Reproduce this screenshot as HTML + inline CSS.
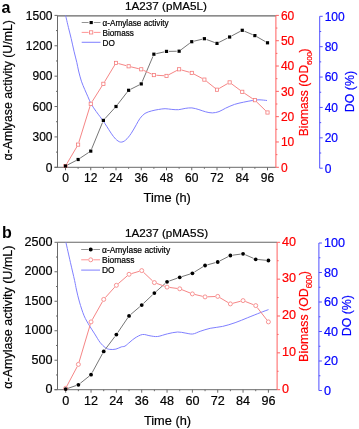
<!DOCTYPE html>
<html><head><meta charset="utf-8"><style>html,body{margin:0;padding:0;background:#fff;}svg{display:block;will-change:transform;}text{stroke-width:0.2px;}</style></head>
<body>
<svg width="359" height="429" viewBox="0 0 359 429" font-family='"Liberation Sans", sans-serif'>
<rect width="359" height="429" fill="#fff"/>
<line x1="57.5" y1="15.85" x2="275.9" y2="15.85" stroke="#666" stroke-width="1.1" />
<line x1="57.5" y1="15.4" x2="57.5" y2="167.3" stroke="#6a6a6a" stroke-width="1" />
<line x1="54.5" y1="167.3" x2="275.9" y2="167.3" stroke="#6a6a6a" stroke-width="1" />
<line x1="54.5" y1="167.3" x2="57.5" y2="167.3" stroke="#6a6a6a" stroke-width="1" />
<text x="52.5" y="171.6" font-size="12" fill="#000" stroke="#000" text-anchor="end" >0</text>
<line x1="56" y1="152.11" x2="57.5" y2="152.11" stroke="#6a6a6a" stroke-width="1" />
<line x1="54.5" y1="136.92" x2="57.5" y2="136.92" stroke="#6a6a6a" stroke-width="1" />
<text x="52.5" y="141.22" font-size="12" fill="#000" stroke="#000" text-anchor="end" >300</text>
<line x1="56" y1="121.73" x2="57.5" y2="121.73" stroke="#6a6a6a" stroke-width="1" />
<line x1="54.5" y1="106.54" x2="57.5" y2="106.54" stroke="#6a6a6a" stroke-width="1" />
<text x="52.5" y="110.84" font-size="12" fill="#000" stroke="#000" text-anchor="end" >600</text>
<line x1="56" y1="91.35" x2="57.5" y2="91.35" stroke="#6a6a6a" stroke-width="1" />
<line x1="54.5" y1="76.16" x2="57.5" y2="76.16" stroke="#6a6a6a" stroke-width="1" />
<text x="52.5" y="80.46" font-size="12" fill="#000" stroke="#000" text-anchor="end" >900</text>
<line x1="56" y1="60.97" x2="57.5" y2="60.97" stroke="#6a6a6a" stroke-width="1" />
<line x1="54.5" y1="45.78" x2="57.5" y2="45.78" stroke="#6a6a6a" stroke-width="1" />
<text x="52.5" y="50.08" font-size="12" fill="#000" stroke="#000" text-anchor="end" >1200</text>
<line x1="56" y1="30.59" x2="57.5" y2="30.59" stroke="#6a6a6a" stroke-width="1" />
<line x1="54.5" y1="15.4" x2="57.5" y2="15.4" stroke="#6a6a6a" stroke-width="1" />
<text x="52.5" y="19.7" font-size="12" fill="#000" stroke="#000" text-anchor="end" >1500</text>
<line x1="65.5" y1="167.3" x2="65.5" y2="170.3" stroke="#6a6a6a" stroke-width="1" />
<text x="65.5" y="181.6" font-size="12" fill="#000" stroke="#000" text-anchor="middle" >0</text>
<line x1="78.12" y1="167.3" x2="78.12" y2="168.8" stroke="#6a6a6a" stroke-width="1" />
<line x1="90.75" y1="167.3" x2="90.75" y2="170.3" stroke="#6a6a6a" stroke-width="1" />
<text x="90.75" y="181.6" font-size="12" fill="#000" stroke="#000" text-anchor="middle" >12</text>
<line x1="103.38" y1="167.3" x2="103.38" y2="168.8" stroke="#6a6a6a" stroke-width="1" />
<line x1="116" y1="167.3" x2="116" y2="170.3" stroke="#6a6a6a" stroke-width="1" />
<text x="116" y="181.6" font-size="12" fill="#000" stroke="#000" text-anchor="middle" >24</text>
<line x1="128.62" y1="167.3" x2="128.62" y2="168.8" stroke="#6a6a6a" stroke-width="1" />
<line x1="141.25" y1="167.3" x2="141.25" y2="170.3" stroke="#6a6a6a" stroke-width="1" />
<text x="141.25" y="181.6" font-size="12" fill="#000" stroke="#000" text-anchor="middle" >36</text>
<line x1="153.88" y1="167.3" x2="153.88" y2="168.8" stroke="#6a6a6a" stroke-width="1" />
<line x1="166.5" y1="167.3" x2="166.5" y2="170.3" stroke="#6a6a6a" stroke-width="1" />
<text x="166.5" y="181.6" font-size="12" fill="#000" stroke="#000" text-anchor="middle" >48</text>
<line x1="179.12" y1="167.3" x2="179.12" y2="168.8" stroke="#6a6a6a" stroke-width="1" />
<line x1="191.75" y1="167.3" x2="191.75" y2="170.3" stroke="#6a6a6a" stroke-width="1" />
<text x="191.75" y="181.6" font-size="12" fill="#000" stroke="#000" text-anchor="middle" >60</text>
<line x1="204.38" y1="167.3" x2="204.38" y2="168.8" stroke="#6a6a6a" stroke-width="1" />
<line x1="217" y1="167.3" x2="217" y2="170.3" stroke="#6a6a6a" stroke-width="1" />
<text x="217" y="181.6" font-size="12" fill="#000" stroke="#000" text-anchor="middle" >72</text>
<line x1="229.62" y1="167.3" x2="229.62" y2="168.8" stroke="#6a6a6a" stroke-width="1" />
<line x1="242.25" y1="167.3" x2="242.25" y2="170.3" stroke="#6a6a6a" stroke-width="1" />
<text x="242.25" y="181.6" font-size="12" fill="#000" stroke="#000" text-anchor="middle" >84</text>
<line x1="254.88" y1="167.3" x2="254.88" y2="168.8" stroke="#6a6a6a" stroke-width="1" />
<line x1="267.5" y1="167.3" x2="267.5" y2="170.3" stroke="#6a6a6a" stroke-width="1" />
<text x="267.5" y="181.6" font-size="12" fill="#000" stroke="#000" text-anchor="middle" >96</text>
<line x1="275.9" y1="15.4" x2="275.9" y2="167.3" stroke="#ff6060" stroke-width="1" />
<line x1="275.9" y1="167.3" x2="278.9" y2="167.3" stroke="#ff6060" stroke-width="1" />
<text x="280.9" y="171.6" font-size="12" fill="#ff0000" stroke="#ff0000" text-anchor="start" >0</text>
<line x1="275.9" y1="154.64" x2="277.4" y2="154.64" stroke="#ff6060" stroke-width="1" />
<line x1="275.9" y1="141.98" x2="278.9" y2="141.98" stroke="#ff6060" stroke-width="1" />
<text x="280.9" y="146.28" font-size="12" fill="#ff0000" stroke="#ff0000" text-anchor="start" >10</text>
<line x1="275.9" y1="129.33" x2="277.4" y2="129.33" stroke="#ff6060" stroke-width="1" />
<line x1="275.9" y1="116.67" x2="278.9" y2="116.67" stroke="#ff6060" stroke-width="1" />
<text x="280.9" y="120.97" font-size="12" fill="#ff0000" stroke="#ff0000" text-anchor="start" >20</text>
<line x1="275.9" y1="104.01" x2="277.4" y2="104.01" stroke="#ff6060" stroke-width="1" />
<line x1="275.9" y1="91.35" x2="278.9" y2="91.35" stroke="#ff6060" stroke-width="1" />
<text x="280.9" y="95.65" font-size="12" fill="#ff0000" stroke="#ff0000" text-anchor="start" >30</text>
<line x1="275.9" y1="78.69" x2="277.4" y2="78.69" stroke="#ff6060" stroke-width="1" />
<line x1="275.9" y1="66.03" x2="278.9" y2="66.03" stroke="#ff6060" stroke-width="1" />
<text x="280.9" y="70.33" font-size="12" fill="#ff0000" stroke="#ff0000" text-anchor="start" >40</text>
<line x1="275.9" y1="53.38" x2="277.4" y2="53.38" stroke="#ff6060" stroke-width="1" />
<line x1="275.9" y1="40.72" x2="278.9" y2="40.72" stroke="#ff6060" stroke-width="1" />
<text x="280.9" y="45.02" font-size="12" fill="#ff0000" stroke="#ff0000" text-anchor="start" >50</text>
<line x1="275.9" y1="28.06" x2="277.4" y2="28.06" stroke="#ff6060" stroke-width="1" />
<line x1="275.9" y1="15.4" x2="278.9" y2="15.4" stroke="#ff6060" stroke-width="1" />
<text x="280.9" y="19.7" font-size="12" fill="#ff0000" stroke="#ff0000" text-anchor="start" >60</text>
<line x1="319.7" y1="16.3" x2="319.7" y2="168.2" stroke="#5050ff" stroke-width="1" />
<line x1="319.7" y1="168.2" x2="322.7" y2="168.2" stroke="#5050ff" stroke-width="1" />
<text x="324.7" y="172.5" font-size="12" fill="#0000ff" stroke="#0000ff" text-anchor="start" >0</text>
<line x1="319.7" y1="153.01" x2="321.2" y2="153.01" stroke="#5050ff" stroke-width="1" />
<line x1="319.7" y1="137.82" x2="322.7" y2="137.82" stroke="#5050ff" stroke-width="1" />
<text x="324.7" y="142.12" font-size="12" fill="#0000ff" stroke="#0000ff" text-anchor="start" >20</text>
<line x1="319.7" y1="122.63" x2="321.2" y2="122.63" stroke="#5050ff" stroke-width="1" />
<line x1="319.7" y1="107.44" x2="322.7" y2="107.44" stroke="#5050ff" stroke-width="1" />
<text x="324.7" y="111.74" font-size="12" fill="#0000ff" stroke="#0000ff" text-anchor="start" >40</text>
<line x1="319.7" y1="92.25" x2="321.2" y2="92.25" stroke="#5050ff" stroke-width="1" />
<line x1="319.7" y1="77.06" x2="322.7" y2="77.06" stroke="#5050ff" stroke-width="1" />
<text x="324.7" y="81.36" font-size="12" fill="#0000ff" stroke="#0000ff" text-anchor="start" >60</text>
<line x1="319.7" y1="61.87" x2="321.2" y2="61.87" stroke="#5050ff" stroke-width="1" />
<line x1="319.7" y1="46.68" x2="322.7" y2="46.68" stroke="#5050ff" stroke-width="1" />
<text x="324.7" y="50.98" font-size="12" fill="#0000ff" stroke="#0000ff" text-anchor="start" >80</text>
<line x1="319.7" y1="31.49" x2="321.2" y2="31.49" stroke="#5050ff" stroke-width="1" />
<line x1="319.7" y1="16.3" x2="322.7" y2="16.3" stroke="#5050ff" stroke-width="1" />
<text x="324.7" y="20.6" font-size="12" fill="#0000ff" stroke="#0000ff" text-anchor="start" >100</text>
<text transform="translate(11.8,90.35) rotate(-90)" font-size="12.3" stroke="#000" text-anchor="middle">α-Amlyase activity (U/mL)</text>
<text transform="translate(308.4,92.3) rotate(-90)" font-size="12" fill="#ff0000" stroke="#ff0000" text-anchor="middle">Biomass (OD<tspan font-size="8.04" dy="4.0" letter-spacing="-0.3">600</tspan><tspan dy="-4.0">)</tspan></text>
<text transform="translate(354.3,91.6) rotate(-90)" font-size="12.4" fill="#0000ff" stroke="#0000ff" text-anchor="middle">DO (%)</text>
<text x="167.2" y="201.5" font-size="12.8" fill="#000" stroke="#000" text-anchor="middle" >Time (h)</text>
<text x="165.9" y="9.7" font-size="11.7" fill="#000" stroke="#000" text-anchor="middle" >1A237 (pMA5L)</text>
<text x="1.5" y="12.5" font-size="16" font-weight="bold">a</text>
<path d="M65.6,15.4 C66.07,17.4 67.47,23.53 68.4,27.4 C69.33,31.27 70.27,34.63 71.2,38.6 C72.13,42.57 73.07,47.23 74,51.2 C74.93,55.17 76.03,59.1 76.8,62.4 C77.57,65.7 77.83,67.87 78.6,71 C79.37,74.13 80.38,78.13 81.4,81.2 C82.42,84.27 83.62,86.82 84.7,89.4 C85.78,91.98 86.82,94.27 87.9,96.7 C88.98,99.13 89.83,101.55 91.2,104 C92.57,106.45 94.63,109.3 96.1,111.4 C97.57,113.5 98.8,114.97 100,116.6 C101.2,118.23 102.18,119.58 103.3,121.2 C104.42,122.82 105.4,124.3 106.7,126.3 C108,128.3 109.62,131.08 111.1,133.2 C112.58,135.32 114.02,137.52 115.6,139 C117.18,140.48 118.93,141.92 120.6,142.1 C122.27,142.28 123.83,141.55 125.6,140.1 C127.37,138.65 129.42,135.97 131.2,133.4 C132.98,130.83 134.83,127.2 136.3,124.7 C137.77,122.2 138.55,120.28 140,118.4 C141.45,116.52 143.05,114.65 145,113.4 C146.95,112.15 149.47,111.55 151.7,110.9 C153.93,110.25 156.17,109.87 158.4,109.5 C160.63,109.13 162.87,108.72 165.1,108.7 C167.33,108.68 169.57,109.23 171.8,109.4 C174.03,109.57 176.27,109.87 178.5,109.7 C180.73,109.53 182.97,108.7 185.2,108.4 C187.43,108.1 189.62,107.7 191.9,107.9 C194.18,108.1 196.62,108.95 198.9,109.6 C201.18,110.25 203.37,111.25 205.6,111.8 C207.83,112.35 210.07,112.93 212.3,112.9 C214.53,112.87 216.78,112.38 219,111.6 C221.22,110.82 223.02,109.4 225.6,108.2 C228.18,107 231.52,105.4 234.5,104.4 C237.48,103.4 240.52,102.85 243.5,102.2 C246.48,101.55 249.82,100.9 252.4,100.5 C254.98,100.1 256.57,99.8 259,99.8 C261.43,99.8 265.67,100.38 267,100.5" fill="none" stroke="#7f7fff" stroke-width="1"/>
<path d="M67.63,164.9 L75.99,160.6 M80.12,158.17 L88.75,152.43 M91.66,148.88 L102.46,122.62 M104.99,118.62 L114.39,108.28 M117.48,104.61 L127.15,92.19 M130.77,89.21 L139.11,84.99 M142.19,81.69 L152.94,56.41 M156.22,53.68 L164.16,51.92 M168.9,51.36 L176.73,51.24 M181.04,49.76 L189.83,43.14 M194.08,41.15 L202.04,39.25 M206.62,39.54 L214.75,42.56 M219.14,42.31 L227.48,38.09 M231.74,35.87 L240.13,31.43 M244.46,31.23 L252.66,34.67 M256.96,36.79 L265.42,41.61" fill="none" stroke="#777" stroke-width="1"/>
<path d="M66.77,163.85 L76.85,146.75 M78.86,142.21 L90.01,106.19 M92.08,101.69 L102.04,85.91 M104.67,81.66 L114.71,65.04 M118.41,63.55 L126.21,65.65 M131.06,66.88 L138.82,68.72 M143.52,70.34 L151.6,74.06 M156.37,75.26 L164.01,75.74 M168.72,74.74 L176.91,70.46 M181.53,69.99 L189.35,72.21 M193.96,74.07 L202.17,78.43 M206.33,81.16 L215.05,88.14 M219.16,88.45 L227.46,83.65 M231.63,83.89 L240.24,90.31 M244.33,93.18 L252.79,98.82 M256.67,101.94 L265.71,110.76" fill="none" stroke="#f68686" stroke-width="1"/>
<rect x="63.9" y="164.4" width="3.2" height="3.2" fill="#fff" stroke="#f47272" stroke-width="0.75"/>
<rect x="76.53" y="143" width="3.2" height="3.2" fill="#fff" stroke="#f47272" stroke-width="0.75"/>
<rect x="89.15" y="102.2" width="3.2" height="3.2" fill="#fff" stroke="#f47272" stroke-width="0.75"/>
<rect x="101.78" y="82.2" width="3.2" height="3.2" fill="#fff" stroke="#f47272" stroke-width="0.75"/>
<rect x="114.4" y="61.3" width="3.2" height="3.2" fill="#fff" stroke="#f47272" stroke-width="0.75"/>
<rect x="127.03" y="64.7" width="3.2" height="3.2" fill="#fff" stroke="#f47272" stroke-width="0.75"/>
<rect x="139.65" y="67.7" width="3.2" height="3.2" fill="#fff" stroke="#f47272" stroke-width="0.75"/>
<rect x="152.28" y="73.5" width="3.2" height="3.2" fill="#fff" stroke="#f47272" stroke-width="0.75"/>
<rect x="164.9" y="74.3" width="3.2" height="3.2" fill="#fff" stroke="#f47272" stroke-width="0.75"/>
<rect x="177.53" y="67.7" width="3.2" height="3.2" fill="#fff" stroke="#f47272" stroke-width="0.75"/>
<rect x="190.15" y="71.3" width="3.2" height="3.2" fill="#fff" stroke="#f47272" stroke-width="0.75"/>
<rect x="202.78" y="78" width="3.2" height="3.2" fill="#fff" stroke="#f47272" stroke-width="0.75"/>
<rect x="215.4" y="88.1" width="3.2" height="3.2" fill="#fff" stroke="#f47272" stroke-width="0.75"/>
<rect x="228.03" y="80.8" width="3.2" height="3.2" fill="#fff" stroke="#f47272" stroke-width="0.75"/>
<rect x="240.65" y="90.2" width="3.2" height="3.2" fill="#fff" stroke="#f47272" stroke-width="0.75"/>
<rect x="253.28" y="98.6" width="3.2" height="3.2" fill="#fff" stroke="#f47272" stroke-width="0.75"/>
<rect x="265.9" y="110.9" width="3.2" height="3.2" fill="#fff" stroke="#f47272" stroke-width="0.75"/>
<rect x="63.9" y="164.4" width="3.2" height="3.2" fill="#000"/>
<rect x="76.53" y="157.9" width="3.2" height="3.2" fill="#000"/>
<rect x="89.15" y="149.5" width="3.2" height="3.2" fill="#000"/>
<rect x="101.78" y="118.8" width="3.2" height="3.2" fill="#000"/>
<rect x="114.4" y="104.9" width="3.2" height="3.2" fill="#000"/>
<rect x="127.03" y="88.7" width="3.2" height="3.2" fill="#000"/>
<rect x="139.65" y="82.3" width="3.2" height="3.2" fill="#000"/>
<rect x="152.28" y="52.6" width="3.2" height="3.2" fill="#000"/>
<rect x="164.9" y="49.8" width="3.2" height="3.2" fill="#000"/>
<rect x="177.53" y="49.6" width="3.2" height="3.2" fill="#000"/>
<rect x="190.15" y="40.1" width="3.2" height="3.2" fill="#000"/>
<rect x="202.78" y="37.1" width="3.2" height="3.2" fill="#000"/>
<rect x="215.4" y="41.8" width="3.2" height="3.2" fill="#000"/>
<rect x="228.03" y="35.4" width="3.2" height="3.2" fill="#000"/>
<rect x="240.65" y="28.7" width="3.2" height="3.2" fill="#000"/>
<rect x="253.28" y="34" width="3.2" height="3.2" fill="#000"/>
<rect x="265.9" y="41.2" width="3.2" height="3.2" fill="#000"/>
<line x1="81.7" y1="22.5" x2="88.6" y2="22.5" stroke="#888" stroke-width="0.9" />
<line x1="93.8" y1="22.5" x2="100.5" y2="22.5" stroke="#888" stroke-width="0.9" />
<rect x="89.6" y="21" width="3.2" height="3.1" fill="#000"/>
<text x="102.5" y="25.7" font-size="8.2" fill="#000" stroke="#000" text-anchor="start" >α-Amylase activity</text>
<line x1="81.7" y1="32.4" x2="88.6" y2="32.4" stroke="#f88" stroke-width="0.9" />
<line x1="93.8" y1="32.4" x2="100.5" y2="32.4" stroke="#f88" stroke-width="0.9" />
<rect x="89.6" y="30.8" width="3.2" height="3.2" fill="#fff" stroke="#f47272" stroke-width="0.75"/>
<text x="102.5" y="35.6" font-size="8.2" fill="#000" stroke="#000" text-anchor="start" >Biomass</text>
<line x1="81.7" y1="42.3" x2="100.5" y2="42.3" stroke="#8888ff" stroke-width="1.1" />
<text x="102.5" y="45.5" font-size="8.2" fill="#000" stroke="#000" text-anchor="start" >DO</text>
<line x1="57.5" y1="242.3" x2="277.1" y2="242.3" stroke="#666" stroke-width="1.1" />
<line x1="57.5" y1="242.3" x2="57.5" y2="389.7" stroke="#6a6a6a" stroke-width="1" />
<line x1="54.5" y1="389.7" x2="277.1" y2="389.7" stroke="#6a6a6a" stroke-width="1" />
<line x1="54.5" y1="389.7" x2="57.5" y2="389.7" stroke="#6a6a6a" stroke-width="1" />
<text x="52.5" y="393" font-size="12.6" fill="#000" stroke="#000" text-anchor="end" >0</text>
<line x1="56" y1="374.96" x2="57.5" y2="374.96" stroke="#6a6a6a" stroke-width="1" />
<line x1="54.5" y1="360.22" x2="57.5" y2="360.22" stroke="#6a6a6a" stroke-width="1" />
<text x="52.5" y="363.52" font-size="12.6" fill="#000" stroke="#000" text-anchor="end" >500</text>
<line x1="56" y1="345.48" x2="57.5" y2="345.48" stroke="#6a6a6a" stroke-width="1" />
<line x1="54.5" y1="330.74" x2="57.5" y2="330.74" stroke="#6a6a6a" stroke-width="1" />
<text x="52.5" y="334.04" font-size="12.6" fill="#000" stroke="#000" text-anchor="end" >1000</text>
<line x1="56" y1="316" x2="57.5" y2="316" stroke="#6a6a6a" stroke-width="1" />
<line x1="54.5" y1="301.26" x2="57.5" y2="301.26" stroke="#6a6a6a" stroke-width="1" />
<text x="52.5" y="304.56" font-size="12.6" fill="#000" stroke="#000" text-anchor="end" >1500</text>
<line x1="56" y1="286.52" x2="57.5" y2="286.52" stroke="#6a6a6a" stroke-width="1" />
<line x1="54.5" y1="271.78" x2="57.5" y2="271.78" stroke="#6a6a6a" stroke-width="1" />
<text x="52.5" y="275.08" font-size="12.6" fill="#000" stroke="#000" text-anchor="end" >2000</text>
<line x1="56" y1="257.04" x2="57.5" y2="257.04" stroke="#6a6a6a" stroke-width="1" />
<line x1="54.5" y1="242.3" x2="57.5" y2="242.3" stroke="#6a6a6a" stroke-width="1" />
<text x="52.5" y="245.6" font-size="12.6" fill="#000" stroke="#000" text-anchor="end" >2500</text>
<line x1="65.7" y1="389.7" x2="65.7" y2="392.7" stroke="#6a6a6a" stroke-width="1" />
<text x="65.7" y="405" font-size="12.6" fill="#000" stroke="#000" text-anchor="middle" >0</text>
<line x1="78.37" y1="389.7" x2="78.37" y2="391.2" stroke="#6a6a6a" stroke-width="1" />
<line x1="91.04" y1="389.7" x2="91.04" y2="392.7" stroke="#6a6a6a" stroke-width="1" />
<text x="91.04" y="405" font-size="12.6" fill="#000" stroke="#000" text-anchor="middle" >12</text>
<line x1="103.71" y1="389.7" x2="103.71" y2="391.2" stroke="#6a6a6a" stroke-width="1" />
<line x1="116.38" y1="389.7" x2="116.38" y2="392.7" stroke="#6a6a6a" stroke-width="1" />
<text x="116.38" y="405" font-size="12.6" fill="#000" stroke="#000" text-anchor="middle" >24</text>
<line x1="129.04" y1="389.7" x2="129.04" y2="391.2" stroke="#6a6a6a" stroke-width="1" />
<line x1="141.71" y1="389.7" x2="141.71" y2="392.7" stroke="#6a6a6a" stroke-width="1" />
<text x="141.71" y="405" font-size="12.6" fill="#000" stroke="#000" text-anchor="middle" >36</text>
<line x1="154.38" y1="389.7" x2="154.38" y2="391.2" stroke="#6a6a6a" stroke-width="1" />
<line x1="167.05" y1="389.7" x2="167.05" y2="392.7" stroke="#6a6a6a" stroke-width="1" />
<text x="167.05" y="405" font-size="12.6" fill="#000" stroke="#000" text-anchor="middle" >48</text>
<line x1="179.72" y1="389.7" x2="179.72" y2="391.2" stroke="#6a6a6a" stroke-width="1" />
<line x1="192.39" y1="389.7" x2="192.39" y2="392.7" stroke="#6a6a6a" stroke-width="1" />
<text x="192.39" y="405" font-size="12.6" fill="#000" stroke="#000" text-anchor="middle" >60</text>
<line x1="205.06" y1="389.7" x2="205.06" y2="391.2" stroke="#6a6a6a" stroke-width="1" />
<line x1="217.73" y1="389.7" x2="217.73" y2="392.7" stroke="#6a6a6a" stroke-width="1" />
<text x="217.73" y="405" font-size="12.6" fill="#000" stroke="#000" text-anchor="middle" >72</text>
<line x1="230.39" y1="389.7" x2="230.39" y2="391.2" stroke="#6a6a6a" stroke-width="1" />
<line x1="243.06" y1="389.7" x2="243.06" y2="392.7" stroke="#6a6a6a" stroke-width="1" />
<text x="243.06" y="405" font-size="12.6" fill="#000" stroke="#000" text-anchor="middle" >84</text>
<line x1="255.73" y1="389.7" x2="255.73" y2="391.2" stroke="#6a6a6a" stroke-width="1" />
<line x1="268.4" y1="389.7" x2="268.4" y2="392.7" stroke="#6a6a6a" stroke-width="1" />
<text x="268.4" y="405" font-size="12.6" fill="#000" stroke="#000" text-anchor="middle" >96</text>
<line x1="277.1" y1="242.3" x2="277.1" y2="389.7" stroke="#ff6060" stroke-width="1" />
<line x1="277.1" y1="389.7" x2="280.1" y2="389.7" stroke="#ff6060" stroke-width="1" />
<text x="282.1" y="393" font-size="12.6" fill="#ff0000" stroke="#ff0000" text-anchor="start" >0</text>
<line x1="277.1" y1="371.27" x2="278.6" y2="371.27" stroke="#ff6060" stroke-width="1" />
<line x1="277.1" y1="352.85" x2="280.1" y2="352.85" stroke="#ff6060" stroke-width="1" />
<text x="282.1" y="356.15" font-size="12.6" fill="#ff0000" stroke="#ff0000" text-anchor="start" >10</text>
<line x1="277.1" y1="334.43" x2="278.6" y2="334.43" stroke="#ff6060" stroke-width="1" />
<line x1="277.1" y1="316" x2="280.1" y2="316" stroke="#ff6060" stroke-width="1" />
<text x="282.1" y="319.3" font-size="12.6" fill="#ff0000" stroke="#ff0000" text-anchor="start" >20</text>
<line x1="277.1" y1="297.57" x2="278.6" y2="297.57" stroke="#ff6060" stroke-width="1" />
<line x1="277.1" y1="279.15" x2="280.1" y2="279.15" stroke="#ff6060" stroke-width="1" />
<text x="282.1" y="282.45" font-size="12.6" fill="#ff0000" stroke="#ff0000" text-anchor="start" >30</text>
<line x1="277.1" y1="260.73" x2="278.6" y2="260.73" stroke="#ff6060" stroke-width="1" />
<line x1="277.1" y1="242.3" x2="280.1" y2="242.3" stroke="#ff6060" stroke-width="1" />
<text x="282.1" y="245.6" font-size="12.6" fill="#ff0000" stroke="#ff0000" text-anchor="start" >40</text>
<line x1="318.9" y1="243" x2="318.9" y2="390.5" stroke="#5050ff" stroke-width="1" />
<line x1="318.9" y1="390.5" x2="321.9" y2="390.5" stroke="#5050ff" stroke-width="1" />
<text x="323.9" y="394.9" font-size="12.6" fill="#0000ff" stroke="#0000ff" text-anchor="start" >0</text>
<line x1="318.9" y1="375.75" x2="320.4" y2="375.75" stroke="#5050ff" stroke-width="1" />
<line x1="318.9" y1="361" x2="321.9" y2="361" stroke="#5050ff" stroke-width="1" />
<text x="323.9" y="365.4" font-size="12.6" fill="#0000ff" stroke="#0000ff" text-anchor="start" >20</text>
<line x1="318.9" y1="346.25" x2="320.4" y2="346.25" stroke="#5050ff" stroke-width="1" />
<line x1="318.9" y1="331.5" x2="321.9" y2="331.5" stroke="#5050ff" stroke-width="1" />
<text x="323.9" y="335.9" font-size="12.6" fill="#0000ff" stroke="#0000ff" text-anchor="start" >40</text>
<line x1="318.9" y1="316.75" x2="320.4" y2="316.75" stroke="#5050ff" stroke-width="1" />
<line x1="318.9" y1="302" x2="321.9" y2="302" stroke="#5050ff" stroke-width="1" />
<text x="323.9" y="306.4" font-size="12.6" fill="#0000ff" stroke="#0000ff" text-anchor="start" >60</text>
<line x1="318.9" y1="287.25" x2="320.4" y2="287.25" stroke="#5050ff" stroke-width="1" />
<line x1="318.9" y1="272.5" x2="321.9" y2="272.5" stroke="#5050ff" stroke-width="1" />
<text x="323.9" y="276.9" font-size="12.6" fill="#0000ff" stroke="#0000ff" text-anchor="start" >80</text>
<line x1="318.9" y1="257.75" x2="320.4" y2="257.75" stroke="#5050ff" stroke-width="1" />
<line x1="318.9" y1="243" x2="321.9" y2="243" stroke="#5050ff" stroke-width="1" />
<text x="323.9" y="247.4" font-size="12.6" fill="#0000ff" stroke="#0000ff" text-anchor="start" >100</text>
<text transform="translate(11.8,317.1) rotate(-90)" font-size="12.55" stroke="#000" text-anchor="middle">α-Amylase activity (U/mL)</text>
<text transform="translate(308.4,316.5) rotate(-90)" font-size="12.4" fill="#ff0000" stroke="#ff0000" text-anchor="middle">Biomass (OD<tspan font-size="8.31" dy="4.0" letter-spacing="-0.3">600</tspan><tspan dy="-4.0">)</tspan></text>
<text transform="translate(350.6,315.65) rotate(-90)" font-size="12.4" fill="#0000ff" stroke="#0000ff" text-anchor="middle">DO (%)</text>
<text x="167.5" y="424.9" font-size="12.8" fill="#000" stroke="#000" text-anchor="middle" >Time (h)</text>
<text x="166.5" y="236.6" font-size="11.7" fill="#000" stroke="#000" text-anchor="middle" >1A237 (pMA5S)</text>
<text x="1.9" y="237.6" font-size="16" font-weight="bold">b</text>
<path d="M65.9,242.3 C66.65,245.63 68.95,255.93 70.4,262.3 C71.85,268.67 73.58,275.88 74.6,280.5 C75.62,285.12 75.68,286.4 76.5,290 C77.32,293.6 78.23,297.8 79.5,302.1 C80.77,306.4 82.45,311.88 84.1,315.8 C85.75,319.72 87.63,322.58 89.4,325.6 C91.17,328.62 92.93,331.12 94.7,333.9 C96.47,336.68 98.23,340.02 100,342.3 C101.77,344.58 103.67,346.42 105.3,347.6 C106.93,348.78 108.03,349.15 109.8,349.4 C111.57,349.65 113.98,349.52 115.9,349.1 C117.82,348.68 119.78,347.4 121.3,346.9 C122.82,346.4 123.55,346.92 125,346.1 C126.45,345.28 128.33,343.35 130,342 C131.67,340.65 132.92,339.25 135,338 C137.08,336.75 140,334.87 142.5,334.5 C145,334.13 147.48,335.47 150,335.8 C152.52,336.13 154.67,336.83 157.6,336.5 C160.53,336.17 164.27,334.55 167.6,333.8 C170.93,333.05 174.68,332.13 177.6,332 C180.52,331.87 182.58,332.67 185.1,333 C187.62,333.33 190.18,334.28 192.7,334 C195.22,333.72 197.28,332.25 200.2,331.3 C203.12,330.35 206.47,329.12 210.2,328.3 C213.93,327.48 218.45,327.33 222.6,326.4 C226.75,325.47 230.92,324.15 235.1,322.7 C239.28,321.25 243.52,319.37 247.7,317.7 C251.88,316.03 256.73,314.05 260.2,312.7 C263.67,311.35 267.12,310.12 268.5,309.6" fill="none" stroke="#7f7fff" stroke-width="1"/>
<path d="M67.97,388.33 L76.1,385.57 M80.25,383.3 L89.16,376.2 M92.18,372.59 L102.56,353.51 M105.15,349.48 L114.93,336.52 M117.72,332.61 L127.7,317.89 M130.87,314.34 L139.89,306.66 M143.45,303.45 L152.64,294.75 M156.17,291.5 L165.26,283.4 M169.31,281 L177.46,278.1 M182.01,276.58 L190.1,274.02 M194.43,272.04 L203.01,266.76 M207.37,264.86 L215.41,262.64 M219.86,260.9 L228.26,256.6 M232.77,255.18 L240.68,254.12 M245.26,254.76 L253.53,258.34 M258.12,259.53 L266.01,260.27" fill="none" stroke="#777" stroke-width="1"/>
<path d="M66.87,386.09 L77.2,366.61 M79.08,362 L90.32,324.3 M92.26,319.72 L102.48,301.58 M105.38,297.54 L114.7,287.16 M118.26,283.66 L127.16,275.94 M131.44,273.6 L139.31,271.3 M143.53,272.32 L152.57,280.88 M156.74,283.44 L164.69,286.26 M169.53,287.43 L177.24,288.47 M182.04,289.73 L190.07,292.97 M194.82,294.48 L202.62,296.32 M207.55,296.8 L215.23,296.5 M219.88,297.67 L228.24,302.63 M232.81,303.27 L240.64,301.23 M245.39,301.52 L253.41,304.68 M257.27,307.57 L266.87,319.93" fill="none" stroke="#f68686" stroke-width="1"/>
<circle cx="65.7" cy="388.3" r="2" fill="#fff" stroke="#f47272" stroke-width="0.75"/>
<circle cx="78.37" cy="364.4" r="2" fill="#fff" stroke="#f47272" stroke-width="0.75"/>
<circle cx="91.04" cy="321.9" r="2" fill="#fff" stroke="#f47272" stroke-width="0.75"/>
<circle cx="103.71" cy="299.4" r="2" fill="#fff" stroke="#f47272" stroke-width="0.75"/>
<circle cx="116.38" cy="285.3" r="2" fill="#fff" stroke="#f47272" stroke-width="0.75"/>
<circle cx="129.04" cy="274.3" r="2" fill="#fff" stroke="#f47272" stroke-width="0.75"/>
<circle cx="141.71" cy="270.6" r="2" fill="#fff" stroke="#f47272" stroke-width="0.75"/>
<circle cx="154.38" cy="282.6" r="2" fill="#fff" stroke="#f47272" stroke-width="0.75"/>
<circle cx="167.05" cy="287.1" r="2" fill="#fff" stroke="#f47272" stroke-width="0.75"/>
<circle cx="179.72" cy="288.8" r="2" fill="#fff" stroke="#f47272" stroke-width="0.75"/>
<circle cx="192.39" cy="293.9" r="2" fill="#fff" stroke="#f47272" stroke-width="0.75"/>
<circle cx="205.06" cy="296.9" r="2" fill="#fff" stroke="#f47272" stroke-width="0.75"/>
<circle cx="217.73" cy="296.4" r="2" fill="#fff" stroke="#f47272" stroke-width="0.75"/>
<circle cx="230.39" cy="303.9" r="2" fill="#fff" stroke="#f47272" stroke-width="0.75"/>
<circle cx="243.06" cy="300.6" r="2" fill="#fff" stroke="#f47272" stroke-width="0.75"/>
<circle cx="255.73" cy="305.6" r="2" fill="#fff" stroke="#f47272" stroke-width="0.75"/>
<circle cx="268.4" cy="321.9" r="2" fill="#fff" stroke="#f47272" stroke-width="0.75"/>
<circle cx="65.7" cy="389.1" r="1.9" fill="#000"/>
<circle cx="78.37" cy="384.8" r="1.9" fill="#000"/>
<circle cx="91.04" cy="374.7" r="1.9" fill="#000"/>
<circle cx="103.71" cy="351.4" r="1.9" fill="#000"/>
<circle cx="116.38" cy="334.6" r="1.9" fill="#000"/>
<circle cx="129.04" cy="315.9" r="1.9" fill="#000"/>
<circle cx="141.71" cy="305.1" r="1.9" fill="#000"/>
<circle cx="154.38" cy="293.1" r="1.9" fill="#000"/>
<circle cx="167.05" cy="281.8" r="1.9" fill="#000"/>
<circle cx="179.72" cy="277.3" r="1.9" fill="#000"/>
<circle cx="192.39" cy="273.3" r="1.9" fill="#000"/>
<circle cx="205.06" cy="265.5" r="1.9" fill="#000"/>
<circle cx="217.73" cy="262" r="1.9" fill="#000"/>
<circle cx="230.39" cy="255.5" r="1.9" fill="#000"/>
<circle cx="243.06" cy="253.8" r="1.9" fill="#000"/>
<circle cx="255.73" cy="259.3" r="1.9" fill="#000"/>
<circle cx="268.4" cy="260.5" r="1.9" fill="#000"/>
<line x1="81.2" y1="249.5" x2="88.1" y2="249.5" stroke="#888" stroke-width="0.9" />
<line x1="93.3" y1="249.5" x2="100" y2="249.5" stroke="#888" stroke-width="0.9" />
<circle cx="90.7" cy="249.5" r="2.0" fill="#000"/>
<text x="102" y="252.8" font-size="8.45" fill="#000" stroke="#000" text-anchor="start" >α-Amylase activity</text>
<line x1="81.2" y1="259.8" x2="88.1" y2="259.8" stroke="#f88" stroke-width="0.9" />
<line x1="93.3" y1="259.8" x2="100" y2="259.8" stroke="#f88" stroke-width="0.9" />
<circle cx="90.7" cy="259.8" r="2" fill="#fff" stroke="#f47272" stroke-width="0.75"/>
<text x="102" y="263.1" font-size="8.45" fill="#000" stroke="#000" text-anchor="start" >Biomass</text>
<line x1="81.2" y1="270.1" x2="100" y2="270.1" stroke="#8888ff" stroke-width="1.1" />
<text x="102" y="273.4" font-size="8.45" fill="#000" stroke="#000" text-anchor="start" >DO</text>
</svg>
</body></html>
